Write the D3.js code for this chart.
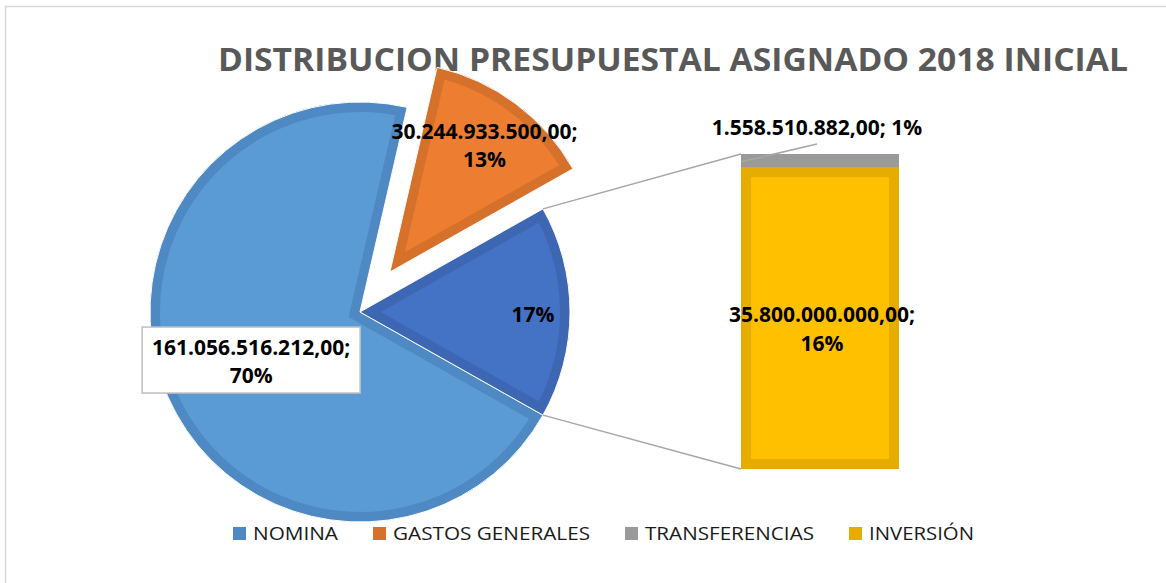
<!DOCTYPE html>
<html>
<head>
<meta charset="utf-8">
<script src="https://cdn.jsdelivr.net/npm/d3@7"></script>
<style>
  body { margin: 0; background: #fff; }
  svg { display: block; }
  text { font-family: "Open Sans", "DejaVu Sans", sans-serif; }
</style>
</head>
<body>
<div class="chart"></div>
<script>
const W = 1166, H = 583;

const title = "DISTRIBUCION PRESUPUESTAL ASIGNADO 2018 INICIAL";
const categories = ["NOMINA", "GASTOS GENERALES", "TRANSFERENCIAS", "INVERSIÓN"];
const values = [161056516212, 30244933500, 1558510882, 35800000000];
const percentLabels = ["70%", "13%", "1%", "16%"];
const valueLabels = ["161.056.516.212,00", "30.244.933.500,00", "1.558.510.882,00", "35.800.000.000,00"];
const otherLabel = "17%";
// which categories go into the secondary bar
const inBar = [false, false, true, true];

const fills = ["#5B9BD5", "#ED7D31", "#A5A5A5", "#FFC000"];
const borders = ["#4F89C3", "#D6712C", "#9A9A9A", "#E6AC00"];
const otherFill = "#4472C4", otherBorder = "#3D66B3";

const svg = d3.select(".chart")
  .append("svg")
  .attr("width", W)
  .attr("height", H);

const defs = svg.append("defs");

// chart frame
svg.append("rect")
  .attr("x", 5.5).attr("y", 6.5)
  .attr("width", W + 10).attr("height", H + 10)
  .attr("fill", "none")
  .attr("stroke", "#D9D9D9")
  .attr("stroke-width", 1.5);

svg.append("text")
  .attr("x", 218).attr("y", 71)
  .attr("textLength", 910)
  .attr("lengthAdjust", "spacingAndGlyphs")
  .attr("font-size", 33)
  .attr("font-weight", "bold")
  .attr("fill", "#595959")
  .text(title);

// ---- pie ----
const cx = 360, cy = 312, r = 210;
const otherTotal = d3.sum(values.filter((v, i) => inBar[i]));
const pieData = [
  { name: "NOMINA", value: values[0], fill: fills[0], border: borders[0], i: 0 },
  { name: "GASTOS GENERALES", value: values[1], fill: fills[1], border: borders[1], i: 1 },
  { name: "OTHER", value: otherTotal, fill: otherFill, border: otherBorder, i: -1 }
];
const total = d3.sum(pieData, d => d.value);
const otherAngle = otherTotal / total * 2 * Math.PI;
// the "other" slice is centred on 3 o'clock
const startA = Math.PI / 2 + otherAngle / 2;

const pie = d3.pie().sort(null).value(d => d.value)
  .startAngle(startA).endAngle(startA + 2 * Math.PI);
const arcs = pie(pieData);

const arc = d3.arc().innerRadius(0).outerRadius(r);
const explode = 50;

const pieG = svg.append("g").attr("transform", `translate(${cx},${cy})`);

arcs.forEach((a, k) => {
  const mid = (a.startAngle + a.endAngle) / 2;
  const off = a.data.name === "GASTOS GENERALES" ? explode : 0;
  const dx = Math.sin(mid) * off, dy = -Math.cos(mid) * off;
  const g = pieG.append("g").attr("transform", `translate(${dx},${dy})`);
  const id = "clip-slice-" + k;
  defs.append("clipPath").attr("id", id)
    .append("path").attr("d", arc(a))
    .attr("transform", `translate(${cx + dx},${cy + dy})`);
  g.append("path").attr("d", arc(a)).attr("fill", a.data.fill);
  g.append("path").attr("d", arc(a))
    .attr("fill", "none")
    .attr("stroke", a.data.border)
    .attr("stroke-width", 20)
    .attr("stroke-linejoin", "miter")
    .attr("clip-path", `url(#${id})`)
    .attr("transform", `translate(${-cx - dx},${-cy - dy})`)
    .attr("transform", null);
  g.append("path").attr("d", arc(a))
    .attr("fill", "none")
    .attr("stroke", "#fff")
    .attr("stroke-width", 1);
  a.dx = dx; a.dy = dy; a.mid = mid;
});

// fix clip: clipPath uses userSpaceOnUse by default -> coordinates of referencing element
defs.selectAll("clipPath path").attr("transform", null);

// ---- bar of pie ----
const barX = 741, barW = 158;
const yScale = d3.scaleLinear().domain([0, otherTotal]).range([469, 154]);

const barData = [];
let acc = 0;
[3, 2].forEach(i => {
  barData.push({ i, y0: acc, y1: acc + values[i] });
  acc += values[i];
});

const otherArc = arcs[2];
const p1 = [cx + Math.sin(otherArc.startAngle) * r, cy - Math.cos(otherArc.startAngle) * r];
const p2 = [cx + Math.sin(otherArc.endAngle) * r, cy - Math.cos(otherArc.endAngle) * r];

svg.append("line")
  .attr("x1", p1[0]).attr("y1", p1[1])
  .attr("x2", barX).attr("y2", yScale(otherTotal))
  .attr("stroke", "#A6A6A6").attr("stroke-width", 1.5);
svg.append("line")
  .attr("x1", p2[0]).attr("y1", p2[1])
  .attr("x2", barX).attr("y2", yScale(0))
  .attr("stroke", "#A6A6A6").attr("stroke-width", 1.5);

barData.forEach((d, k) => {
  const y = yScale(d.y1), h = yScale(d.y0) - yScale(d.y1);
  const id = "clip-bar-" + k;
  defs.append("clipPath").attr("id", id)
    .append("rect").attr("x", barX).attr("y", y).attr("width", barW).attr("height", h);
  svg.append("rect")
    .attr("x", barX).attr("y", y).attr("width", barW).attr("height", h)
    .attr("fill", fills[d.i]);
  svg.append("rect")
    .attr("x", barX).attr("y", y).attr("width", barW).attr("height", h)
    .attr("fill", "none")
    .attr("stroke", borders[d.i])
    .attr("stroke-width", 20)
    .attr("clip-path", `url(#${id})`);
});

// ---- labels ----
const labelFont = 21;
function twoLine(x, yc, l1, l2) {
  const t = svg.append("text")
    .attr("text-anchor", "middle")
    .attr("font-size", labelFont)
    .attr("font-weight", "bold")
    .attr("fill", "#000");
  t.append("tspan").attr("x", x).attr("y", yc + 7.5).text(l1);
  if (l2) t.append("tspan").attr("x", x).attr("y", yc + 36).text(l2);
  return t;
}

// nomina label in a box
{
  const a = arcs[0];
  const lr = 119;
  const lx = cx + Math.sin(a.mid) * lr, ly = cy - Math.cos(a.mid) * lr;
  svg.append("rect")
    .attr("x", lx - 109).attr("y", ly - 33)
    .attr("width", 218).attr("height", 66)
    .attr("fill", "#fff")
    .attr("stroke", "#BFBFBF").attr("stroke-width", 1.5);
  twoLine(lx, ly - 13, valueLabels[0] + ";", percentLabels[0]);
}
// gastos label
{
  const a = arcs[1];
  const lr = 158;
  const lx = cx + a.dx + Math.sin(a.mid) * lr, ly = cy + a.dy - Math.cos(a.mid) * lr;
  twoLine(lx, ly - 14, valueLabels[1] + ";", percentLabels[1]);
}
// other slice label
{
  const a = arcs[2];
  const lr = 173;
  const lx = cx + Math.sin(a.mid) * lr, ly = cy - Math.cos(a.mid) * lr;
  twoLine(lx, ly + 2, otherLabel);
}
// bar labels
{
  const d = barData[0];
  const mid = (yScale(d.y0) + yScale(d.y1)) / 2;
  twoLine(barX + barW / 2 + 2, mid - 3.5, valueLabels[d.i] + ";", percentLabels[d.i]);
  const t = barData[1];
  const topY = yScale(t.y1);
  svg.append("line")
    .attr("x1", barX + 1).attr("y1", (yScale(t.y0) + topY) / 2 + 1)
    .attr("x2", barX + barW / 2 - 3).attr("y2", topY - 10)
    .attr("stroke", "#A6A6A6").attr("stroke-width", 1.5);
  twoLine(barX + barW / 2 - 3, topY - 27, valueLabels[t.i] + "; " + percentLabels[t.i]);
}

// ---- legend ----
const legendWidths = [85, 197, 169, 105];
const legend = svg.append("g");
let lx = 233;
categories.forEach((c, i) => {
  legend.append("rect")
    .attr("x", lx).attr("y", 527).attr("width", 13).attr("height", 13)
    .attr("fill", borders[i]);
  legend.append("text")
    .attr("x", lx + 20).attr("y", 540)
    .attr("font-size", 18)
    .attr("fill", "#1a1a1a")
    .attr("textLength", legendWidths[i])
    .attr("lengthAdjust", "spacingAndGlyphs")
    .text(c);
  lx += 20 + legendWidths[i] + 35;
});
</script>
</body>
</html>
